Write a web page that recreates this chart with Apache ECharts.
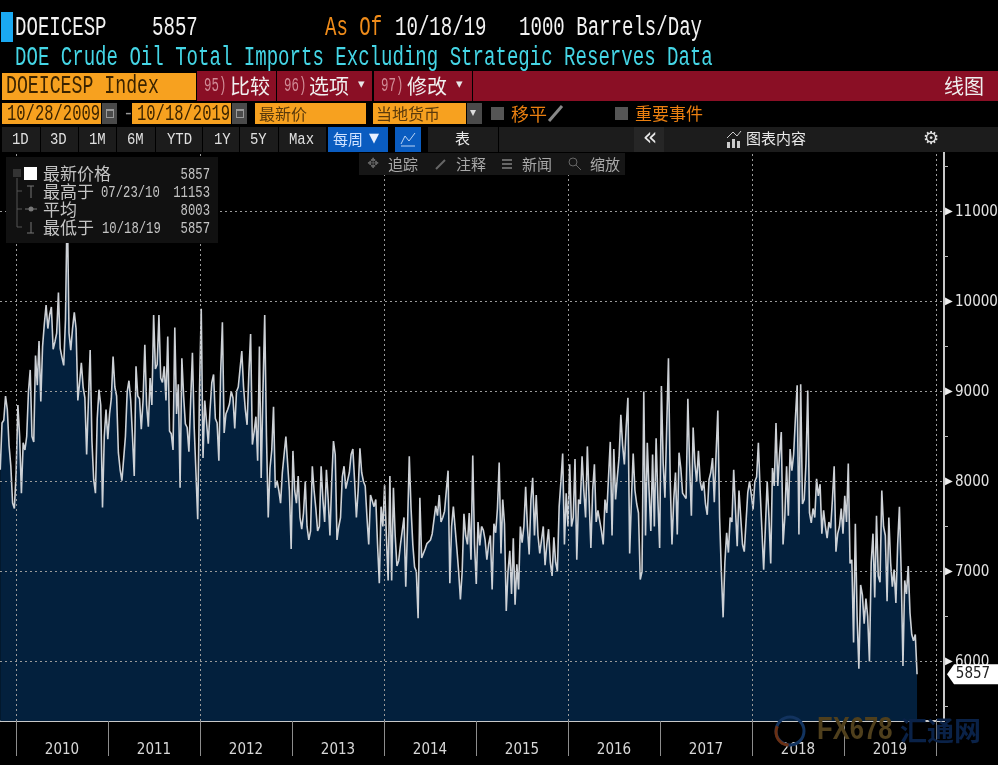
<!DOCTYPE html>
<html>
<head>
<meta charset="utf-8">
<title>DOEICESP Index</title>
<script src="https://cdn.jsdelivr.net/npm/echarts@6/dist/echarts.min.js"></script>
<style>
html,body{margin:0;padding:0;background:#000}
#main{width:998px;height:765px}
</style>
</head>
<body>
<div id="main"></div>
<script>
// weekly values, one list per calendar year
var w2009 = [8130,8650,8680,8950,8800,8400,8170,7760,7700];
var w2010 = [8100,8850,8500,7870,8430,8350,8500,9000,9240,8500,
    8440,9400,9070,9560,8890,9500,9750,9960,9700,9850,
    9940,9470,9550,9650,10100,9480,9380,9290,9800,11153,
    9650,9460,9700,9880,9700,8900,9100,9320,9050,8930,
    8300,8900,9460,8450,8020,7870,8700,9020,8850,7710,
    8500,8800,8470];
var w2011 = [8750,8920,9390,9050,8950,8320,8130,8010,8020,8500,
    9000,9120,8900,8500,8060,9280,8950,8920,8580,8900,
    9520,8850,8610,9150,8850,9850,9250,9300,9850,9150,
    9100,9280,8900,9610,8560,8530,8350,9710,8750,9080,
    7930,9370,8950,8640,8600,8330,8900,9430,8600,8100,
    7580,9000];
var w2012 = [9920,8260,8900,8920,8420,8800,9100,9190,8700,8650,
    8230,9200,9770,8540,8750,8800,8860,9000,8930,8590,
    9000,9050,9250,9450,9050,8800,8630,9200,9640,8410,
    8550,8720,8230,9500,8040,9000,9850,8500,7600,8150,
    8350,8830,7930,8010,7900,7760,8100,8300,8500,8200,
    7900,7250];
var w2013 = [8340,7900,7760,8060,7600,7470,7650,8000,7500,7350,
    7450,8170,7900,7700,7450,7500,8170,7800,7550,8130,
    7800,7400,8000,8450,8300,7350,7500,7600,8050,8170,
    7920,7930,8100,8300,8360,8000,7600,7900,8370,8100,
    8000,7950,7600,7300,7850,7860,7720,7800,7300,6870,
    7720,7500];
var w2014 = [7960,7400,6900,8060,6900,7930,7400,7060,7120,7300,
    7310,7600,6830,7500,8280,7700,7300,7050,7000,6480,
    7820,7150,7140,7250,7310,7290,7350,7420,7420,7730,
    7620,7850,7550,7600,7670,7650,8120,6870,7500,7720,
    7740,7250,7000,6690,7000,7640,7400,7300,7650,7130,
    8290,7300];
var w2015 = [6860,7550,7290,7500,7460,7350,7130,7300,7400,6800,
    7530,7430,7700,8210,7200,7800,7530,6560,7000,7230,
    6750,7370,6630,7080,6800,7500,7320,7500,7940,7500,
    7190,7800,8040,7400,7850,7400,7200,7190,7500,7070,
    7300,7470,7100,6950,7380,7100,7000,7720,8000,8310,
    7300,7870];
var w2016 = [7500,8190,7500,7600,8250,7130,7800,7750,8280,7900,
    7600,8390,7800,7260,7900,8190,7550,7680,7680,7450,
    7300,7800,7650,7650,8440,7400,8360,7800,8050,8270,
    8740,8400,8190,8600,8930,7200,7800,8310,7900,7750,
    7650,6910,7000,9000,7400,8430,7900,7450,8300,7500,
    8480,7800,7260];
var w2017 = [9060,8200,7820,8600,9370,8000,7300,7800,8100,7410,
    8320,8150,7870,7850,7810,8920,8200,7620,8600,8200,
    8000,8340,8000,7900,8000,7750,7630,8020,8100,8260,
    7770,8300,8790,7600,7000,6490,7100,7430,7210,7600,
    7550,8130,7700,7280,7900,7890,7300,7220,7550,7880,
    8000,7850];
var w2018 = [7690,8000,8050,8430,7900,7880,7020,7500,8000,7600,
    7090,8150,7950,8650,7950,8300,8550,7300,7600,8170,
    7620,8360,8120,8300,8700,9070,7410,9080,7750,7800,
    8200,9010,7650,7540,7700,7600,8030,7840,7970,7420,
    7680,7500,7370,7550,7480,7800,8170,7220,7420,7500,
    7700,7420];
var w2019 = [7840,7550,8200,7090,7130,6210,7530,6500,5920,6850,
    6740,6420,6700,6500,6000,7100,7420,6710,7620,6950,
    6880,7900,7500,7400,6670,7600,7100,6830,7020,6650,
    7300,7720,7000,5950,6900,6750,7060,6540,6300,6230,
    6300,5857];

var yearLists = [w2009,w2010,w2011,w2012,w2013,w2014,w2015,w2016,w2017,w2018,w2019];
// first Friday of each list: [year, month, day]
var firstFridays = [[2009,9,30],[2010,0,1],[2011,0,7],[2012,0,6],[2013,0,4],[2014,0,3],[2015,0,2],[2016,0,1],[2017,0,6],[2018,0,5],[2019,0,4]];

var yearLabels = ['2010','2011','2012','2013','2014','2015','2016','2017','2018','2019'];
var gridYears = [2010,2012,2014,2016,2018,2020];
var yLabelValues = [6000,7000,8000,9000,10000,11000];
var yMinorValues = [5500,6500,7500,8500,9500,10500,11500];
var latest = 5857;

var WEEK = 7*24*3600*1000;
var points = [];
yearLists.forEach(function(list, i){
    var f = firstFridays[i];
    var start = Date.UTC(f[0], f[1], f[2]);
    list.forEach(function(v, k){ points.push([start + k*WEEK, v]); });
});
var xMin = Date.UTC(2009,9,29), xMax = Date.UTC(2020,1,2);

var MONO = '"Liberation Mono", monospace';
var CJK = '"Noto Sans CJK SC", sans-serif';
var NARROW = '"Liberation Sans Narrow", "DejaVu Sans Condensed", sans-serif';

function box(x, y, w, h, fill){
    return {type:'rect', z:100, silent:true, shape:{x:x,y:y,width:w,height:h}, style:{fill:fill}};
}
// sx squeezes the text sideways, the terminal font is tall and narrow
function txt(x, y, s, fill, size, sx, family, align){
    return {type:'text', z:101, silent:true, x:x, y:y, scaleX:sx||1, style:{
        text:s, fill:fill, font:size+'px '+(family||MONO), textVerticalAlign:'middle', textAlign:align||'left'
    }};
}
function poly(pts, stroke, width){
    return {type:'polyline', z:101, silent:true, shape:{points:pts}, style:{stroke:stroke, lineWidth:width||1, fill:null}};
}
function cell(x, w){ return box(x, 127, w, 25, '#1c1c1c'); }

var ORANGE = '#f7a11f', RED = '#8a0f25', DARKTXT = '#3a2300', GREY = '#4a4a4a';
var els = [
    box(1,12,12,30,'#1aa9f2'),
    txt(15,28,'DOEICESP','#f2f2f2',27,0.706),
    txt(152,28,'5857','#f2f2f2',27,0.706),
    txt(325,28,'As Of','#f08c1a',27,0.706),
    txt(395,28,'10/18/19','#f2f2f2',27,0.706),
    txt(519,28,'1000 Barrels/Day','#f2f2f2',27,0.706),
    txt(15,58,'DOE Crude Oil Total Imports Excluding Strategic Reserves Data','#45d6e6',27,0.706),

    box(2,73,194,27,ORANGE),
    txt(6,86,'DOEICESP Index',DARKTXT,26,0.70),
    box(197,71,79,30,RED), box(277,71,95,30,RED), box(374,71,98,30,RED), box(473,71,525,30,RED),
    txt(204,86,'95)','#d08b96',20,0.62), txt(230,86,'比较','#f0f0f0',20,1,CJK),
    txt(284,86,'96)','#d08b96',20,0.62), txt(309,86,'选项','#f0f0f0',20,1,CJK), txt(358,85,'▾','#e8e8e8',13,1,'"DejaVu Sans"'),
    txt(381,86,'97)','#d08b96',20,0.62), txt(407,86,'修改','#f0f0f0',20,1,CJK), txt(456,85,'▾','#e8e8e8',13,1,'"DejaVu Sans"'),
    txt(944,86,'线图','#f0f0f0',20,1,CJK),

    box(2,103,99,21,ORANGE), txt(7,114,'10/28/2009',DARKTXT,22,0.705),
    box(102,103,15,21,GREY), box(106,109,8,9,'#999'), box(107,111,6,6,GREY),
    txt(123,114,'-','#999',18),
    box(132,103,99,21,ORANGE), txt(137,114,'10/18/2019',DARKTXT,22,0.705),
    box(232,103,15,21,GREY), box(236,109,8,9,'#999'), box(237,111,6,6,GREY),
    box(255,103,111,21,ORANGE), txt(259,114,'最新价','#5a3a0c',16,1,CJK),
    box(373,103,93,21,ORANGE), txt(376,114,'当地货币','#5a3a0c',16,1,CJK),
    box(467,103,15,21,GREY), txt(470,113,'▾','#ddd',12,1,'"DejaVu Sans"'),
    box(491,107,13,13,'#555'), txt(511,114,'移平','#ea7f10',18,1,CJK),
    poly([[549,121],[562,106]],'#888',3),
    box(615,107,13,13,'#555'), txt(635,114,'重要事件','#ea7f10',17,1,CJK),

    cell(2,38), cell(41,37), cell(79,37), cell(117,38), cell(156,46), cell(203,36), cell(240,38), cell(279,47),
    box(328,127,60,25,'#0a5cc0'), box(395,127,26,25,'#0a5cc0'), cell(428,70), cell(499,135), box(634,127,30,25,'#262626'), box(664,127,334,25,'#1c1c1c'),
    txt(12,139,'1D','#e0e0e0',17,0.82), txt(50,139,'3D','#e0e0e0',17,0.82), txt(89,139,'1M','#e0e0e0',17,0.82),
    txt(127,139,'6M','#e0e0e0',17,0.82), txt(167,139,'YTD','#e0e0e0',17,0.82), txt(214,139,'1Y','#e0e0e0',17,0.82),
    txt(250,139,'5Y','#e0e0e0',17,0.82), txt(289,139,'Max','#e0e0e0',17,0.82),
    txt(333,139,'每周','#cfe2ff',15,1,CJK), txt(369,139,'▼','#e8f0ff',13,1,'"DejaVu Sans"'),
    poly([[401,146],[415,146]],'#bcd4f5',1), poly([[401,144],[405,136],[409,141],[415,133]],'#bcd4f5',1),
    txt(455,138,'表','#e8e8e8',15,1,CJK),
    txt(650,139,'«','#e8e8e8',24,1,'"DejaVu Sans"','center'),
    box(727,142,3,6,'#ccc'), box(732,139,3,9,'#ccc'), box(737,141,3,7,'#ccc'), poly([[727,138],[733,132],[737,136],[741,131]],'#ccc',1),
    txt(746,138,'图表内容','#e8e8e8',15,1,CJK),
    txt(931,139,'⚙','#e0e0e0',18,1,'"DejaVu Sans"','center'),

    box(359,153,266,22,'#161616'),
    txt(373,164,'✥','#666',14,1,'"DejaVu Sans"','center'), txt(388,164,'追踪','#a8a8a8',15,1,CJK),
    poly([[436,169],[445,160]],'#666',2), txt(456,164,'注释','#a8a8a8',15,1,CJK),
    box(502,159,10,2,'#666'), box(502,163,10,2,'#666'), box(502,167,10,2,'#666'), txt(522,164,'新闻','#a8a8a8',15,1,CJK),
    {type:'circle', z:101, silent:true, shape:{cx:573,cy:162,r:4}, style:{stroke:'#666',fill:null}},
    poly([[576,165],[581,170]],'#666',1), txt(590,164,'缩放','#a8a8a8',15,1,CJK),

    // legend panel
    box(6,157,212,86,'#111111'),
    poly([[17,178],[17,227],[22,227]],'#555',1), poly([[17,191],[22,191]],'#555',1), poly([[17,209],[22,209]],'#555',1),
    box(13,169,8,8,'#333'),
    box(24,167,13,13,'#ffffff'),
    txt(43,174,'最新价格','#c4c4c4',17,1,CJK), txt(210,174,'5857','#c4c4c4',17,0.72,MONO,'right'),
    poly([[27,186],[34,186]],'#777',1), poly([[31,186],[31,198]],'#777',1),
    txt(43,192,'最高于','#c4c4c4',17,1,CJK), txt(101,192,'07/23/10','#c4c4c4',17,0.72), txt(210,192,'11153','#c4c4c4',17,0.72,MONO,'right'),
    poly([[25,209],[37,209]],'#777',1), {type:'circle', z:101, silent:true, shape:{cx:31,cy:209,r:2.5}, style:{fill:'#777'}},
    txt(43,210,'平均','#c4c4c4',17,1,CJK), txt(210,210,'8003','#c4c4c4',17,0.72,MONO,'right'),
    poly([[31,222],[31,233]],'#777',1), poly([[27,233],[34,233]],'#777',1),
    txt(43,228,'最低于','#c4c4c4',17,1,CJK), txt(102,228,'10/18/19','#c4c4c4',17,0.72), txt(210,228,'5857','#c4c4c4',17,0.72,MONO,'right'),

    // watermark
    {type:'circle', z:101, silent:true, shape:{cx:790,cy:731,r:14}, style:{stroke:'#12335f',lineWidth:3,fill:'rgba(0,0,0,0)'}},
    {type:'arc', z:102, silent:true, shape:{cx:789,cy:732,r:13,startAngle:1.6,endAngle:3.6}, style:{stroke:'#6b3014',lineWidth:3,fill:null}},
    txt(817,730,'FX678','#4f3f1c',32,0.8,'"Liberation Sans"'),
    txt(900,731,'汇通网','#0a2248',27,1,CJK)
];
els[els.length-2].style.font = 'bold 32px "Liberation Sans"';
els[els.length-1].style.font = 'bold 27px "Noto Sans CJK SC"';

var chart = echarts.init(document.getElementById('main'));
chart.setOption({
    backgroundColor:'#000',
    animation:false,
    grid:[
        {left:0, width:944, top:152, height:569, outerBoundsMode:'none'},
        {left:16, width:920, top:152, height:569, outerBoundsMode:'none'}
    ],
    xAxis:[
        {type:'time', gridIndex:0, min:xMin, max:xMax,
            axisLine:{show:true, lineStyle:{color:'#c8c8c8', width:2}},
            axisTick:{show:false}, axisLabel:{show:false}, splitLine:{show:false}},
        {type:'category', gridIndex:1, data:yearLabels, position:'bottom',
            axisLine:{show:false},
            axisTick:{show:true, alignWithLabel:false, length:35, lineStyle:{color:'#8c8c8c'}},
            axisLabel:{color:'#d8d8d8', fontSize:15, fontFamily:NARROW, margin:22, interval:0},
            splitLine:{show:false}}
    ],
    yAxis:[
        {type:'value', gridIndex:0, position:'right', min:5338, max:11662,
            axisLine:{show:true, lineStyle:{color:'#c8c8c8', width:2}},
            axisTick:{show:true, length:4, customValues:yMinorValues, lineStyle:{color:'#bbb'}},
            axisLabel:{customValues:yLabelValues, margin:1, showMinLabel:true, showMaxLabel:true,
                formatter:function(v){ return '{t|▶}{n|'+v+'}'; },
                rich:{
                    t:{color:'#eee', fontSize:10, fontFamily:'"DejaVu Sans"', width:10},
                    n:{color:'#e4e4e4', fontSize:15, fontFamily:NARROW, padding:[2,0,0,0]}
                }},
            splitLine:{show:false}},
        {type:'value', gridIndex:1, show:false}
    ],
    series:[{
        type:'line',
        xAxisIndex:0, yAxisIndex:0,
        data:points,
        showSymbol:false,
        lineStyle:{color:'#cdd1d6', width:1.6},
        areaStyle:{color:'#03203d', opacity:1, origin:'start'},
        markLine:{
            silent:true, symbol:'none', animation:false, label:{show:false},
            lineStyle:{color:'#9a9a9a', type:[2,3], width:1},
            data:yLabelValues.map(function(v){ return {yAxis:v}; })
                .concat(gridYears.map(function(y){ return {xAxis:Date.UTC(y,0,1)}; }))
        },
        markPoint:{
            silent:true, z:50, animation:false,
            data:[{coord:[xMax, latest]}],
            symbol:'path://M0 10 L7 0 L52 0 L52 20 L7 20 Z',
            symbolSize:[52,20], symbolKeepAspect:false, symbolOffset:[29,0],
            itemStyle:{color:'#ffffff'},
            label:{show:true, position:'inside', color:'#222', fontSize:15, fontFamily:NARROW, formatter:String(latest)}
        }
    }],
    graphic:{elements:els}
});
</script>
</body>
</html>
